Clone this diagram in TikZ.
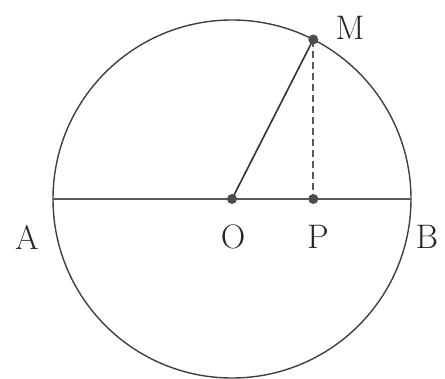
\documentclass[tikz,border=0pt]{standalone}
\usetikzlibrary{positioning, calc}

\begin{document}
\begin{tikzpicture}[x=1pt, y=1pt, font=\fontsize{34}{40}\selectfont,
    dot/.style={circle, fill=black!70, inner sep=0pt, minimum size=10pt},
    lbl/.style={inner sep=0pt, text=black!85}]
    \useasboundingbox (0,0) rectangle (445,378);
    \coordinate (O) at (232,179);
    \coordinate (A) at (53,179);
    \coordinate (B) at (411,179);
    \coordinate (M) at ($(O)+(63:179)$);
    \coordinate (P) at (M |- O);
    \draw[line width=1.4pt, black!75] (O) circle (179);
    \draw[line width=1.3pt, black!65] (A) -- (B);
    \draw[line width=1.6pt, black!80] (O) -- (M);
    \draw[line width=1.7pt, black!65, dash pattern=on 7pt off 4pt] (M) -- (P);
    \foreach \p in {O,M,P} {
      \node[dot] (dot\p) at (\p) {};
    }
    \node[lbl] (lblM) at (350,350) {M};
    \node[lbl] (lblA) at (27,141) {A};
    \node[lbl] (lblO) at (233,141) {O};
    \node[lbl] (lblP) at (318,141) {P};
    \node[lbl] (lblB) at (427,141) {B};
  \end{tikzpicture}
\end{document}
